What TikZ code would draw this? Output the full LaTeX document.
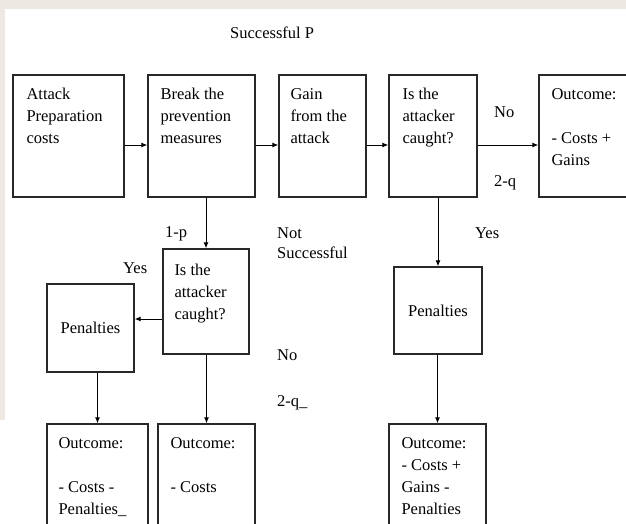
\documentclass[tikz,border=0pt]{standalone}
\usepackage{fontspec}
\setmainfont{Liberation Serif}
\usetikzlibrary{arrows.meta}
\definecolor{bgtint}{RGB}{238,232,226}
\definecolor{edge}{RGB}{40,40,40}
\begin{document}
\begin{tikzpicture}[x=1pt,y=-1pt,
  box/.style={draw=edge, line width=1.4pt, rectangle, inner sep=0pt},
  txt/.style={inner sep=0pt, align=left, anchor=north west, font=\fontsize{16.5}{22}\selectfont},
  lbl/.style={inner sep=0pt, anchor=west, align=left, font=\fontsize{16.5}{20}\selectfont},
  flow/.style={draw=black, line width=1pt, -{Latex[length=6pt,width=5pt]}},
]
% page and tinted margin strips
\clip (0,0) rectangle (626,524);
\fill[white] (0,0) rectangle (626,524);
\fill[bgtint] (0,0) rectangle (626,9);
\fill[bgtint] (0,0) rectangle (5,420);

% top row
\node[box, minimum width=111pt, minimum height=122pt] (prep)   at (68.5,136) {};
\node[box, minimum width=107pt, minimum height=122pt] (brk)    at (201.5,136) {};
\node[box, minimum width=87pt,  minimum height=122pt] (gain)   at (322.5,136) {};
\node[box, minimum width=88pt,  minimum height=122pt] (caught) at (433,136) {};
\node[box, minimum width=121pt, minimum height=122pt] (win)    at (599.5,136) {};

% failure branch
\node[box, minimum width=86pt,  minimum height=105pt] (caughtB) at (206,301.5) {};
\node[box, minimum width=87pt,  minimum height=88pt, font=\fontsize{16.5}{22}\selectfont] (penA) at (90.5,328) {Penalties};
\node[box, minimum width=101pt, minimum height=136pt] (outA) at (97.5,492) {};
\node[box, minimum width=97pt,  minimum height=136pt] (outB) at (206.5,492) {};

% success branch, caught
\node[box, minimum width=88pt,  minimum height=87pt, font=\fontsize{16.5}{22}\selectfont] (penB) at (438,310.5) {Penalties};
\node[box, minimum width=97pt,  minimum height=136pt] (outC) at (437.5,492) {};

% box texts
\node[txt] (prepT)   at ([xshift=14,yshift=-14]prep.north west) {Attack\\Preparation\\costs};
\node[txt] (brkT)    at ([xshift=13,yshift=-14]brk.north west) {Break the\\prevention\\measures};
\node[txt] (gainT)   at ([xshift=12,yshift=-14]gain.north west) {Gain\\from the\\attack};
\node[txt] (caughtT) at ([xshift=14,yshift=-14]caught.north west) {Is the\\attacker\\caught?};
\node[txt] (winT)    at ([xshift=13,yshift=-14]win.north west) {Outcome:\\[22pt]- Costs +\\Gains};
\node[txt] (caughtBT) at ([xshift=12,yshift=-15.5]caughtB.north west) {Is the\\attacker\\caught?};
\node[txt] (outAT)   at ([xshift=12,yshift=-14]outA.north west) {Outcome:\\[22pt]- Costs -\\Penalties\_};
\node[txt] (outBT)   at ([xshift=13,yshift=-14]outB.north west) {Outcome:\\[22pt]- Costs};
\node[txt] (outCT)   at ([xshift=13,yshift=-14]outC.north west) {Outcome:\\- Costs +\\Gains -\\Penalties};

% connectors
\draw[flow] ([yshift=-9]prep.east) -- ([yshift=-9]brk.west);
\draw[flow] ([yshift=-9]brk.east) -- ([yshift=-9]gain.west);
\draw[flow] ([yshift=-9]gain.east) -- ([yshift=-9]caught.west);
\draw[flow] ([yshift=-9]caught.east) -- ([yshift=-9]win.west);
\draw[flow] (caughtB.north |- brk.south) -- (caughtB.north);
\draw[flow] ([yshift=-17.5]caughtB.west) -- ([yshift=-17.5]caughtB.west -| penA.east);
\draw[flow] (outA.north |- penA.south) -- (outA.north);
\draw[flow] (outB.north |- caughtB.south) -- (outB.north);
\draw[flow] (penB.north |- caught.south) -- (penB.north);
\draw[flow] (outC.north |- penB.south) -- (outC.north);

% branch labels
\node[lbl] (succ)  at (230,33)  {Successful P};
\node[lbl] (noA)   at (494,112) {No};
\node[lbl] (qA)    at (494,183) {2-q};
\node[lbl] (pA)    at (165,234) {1-p};
\node[lbl] (yesA)  at (123,268) {Yes};
\node[lbl] (nsucc) at (277,243) {Not\\Successful};
\node[lbl] (noB)   at (277,355) {No};
\node[lbl] (qB)    at (277,403) {2-q\_};
\node[lbl] (yesB)  at (475,233) {Yes};
\end{tikzpicture}
\end{document}
